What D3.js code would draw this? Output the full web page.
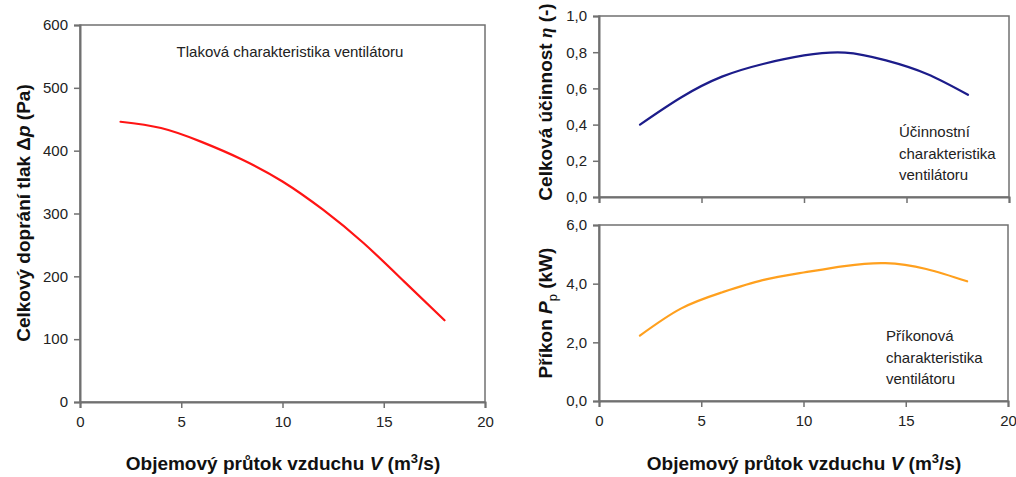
<!DOCTYPE html>
<html>
<head>
<meta charset="utf-8">
<script src="https://cdn.jsdelivr.net/npm/d3@7"></script>
<style>
  html, body { margin: 0; padding: 0; background: #fff; }
  svg { display: block; font-family: "Liberation Sans", Arial, sans-serif; }
</style>
</head>
<body>
<svg id="chart" width="1016" height="477"></svg>
<script>
// ---- data ----
const flow = [2, 4, 6, 8, 10, 12, 14, 16, 18];              // m3/s
const pressure = [446, 436, 414, 386, 351, 306, 253, 192, 130]; // Pa
const efficiency = [0.40, 0.55, 0.665, 0.735, 0.782, 0.798, 0.755, 0.68, 0.565];
const power = [2.23, 3.15, 3.70, 4.12, 4.38, 4.60, 4.70, 4.50, 4.08]; // kW
const xTicks = [0, 5, 10, 15, 20];
const pTicks = [0, 100, 200, 300, 400, 500, 600];
const etaTicks = [0, 0.2, 0.4, 0.6, 0.8, 1.0];
const powTicks = [0, 2, 4, 6];

const svg = d3.select("#chart");
const axisColor = "#707070";
const tickText = "#222";
const comma = v => d3.format(".1f")(v).replace(".", ",");

function panel(cfg) {
  const { x0, x1, yTop, yBot, yDomain, yTicks, yFmt, showXLabels, ys, color } = cfg;
  const x = d3.scaleLinear().domain([0, 20]).range([x0, x1]);
  const y = d3.scaleLinear().domain(yDomain).range([yBot, yTop]);
  const g = svg.append("g");

  g.append("rect").attr("x", x0).attr("y", yTop).attr("width", x1 - x0).attr("height", yBot - yTop)
    .attr("fill", "none").attr("stroke", axisColor).attr("stroke-width", 1.5);

  const xa = g.append("g").attr("transform", `translate(0,${yBot})`)
    .call(d3.axisBottom(x).tickValues(xTicks).tickSize(6).tickPadding(8)
      .tickFormat(showXLabels ? d3.format("d") : () => ""));
  const ya = g.append("g").attr("transform", `translate(${x0},0)`)
    .call(d3.axisLeft(y).tickValues(yTicks).tickSize(6).tickPadding(6).tickFormat(yFmt));
  [xa, ya].forEach(a => {
    a.select(".domain").attr("stroke", axisColor).attr("stroke-width", 2);
    a.selectAll(".tick line").attr("stroke", axisColor).attr("stroke-width", 1.5);
    a.selectAll(".tick text").attr("fill", tickText).style("font-size", "15px");
  });

  const line = d3.line().x((d, i) => x(flow[i])).y(d => y(d)).curve(d3.curveNatural);
  g.append("path").datum(ys).attr("d", line).attr("fill", "none")
    .attr("stroke", color).attr("stroke-width", 2.2).attr("stroke-linecap", "round");
  return { x, y, g };
}

panel({ x0: 80, x1: 485, yTop: 25, yBot: 402, yDomain: [0, 600], yTicks: pTicks,
  yFmt: d3.format("d"), showXLabels: true, ys: pressure, color: "#ff1414" });
panel({ x0: 599, x1: 1009, yTop: 16, yBot: 197, yDomain: [0, 1], yTicks: etaTicks,
  yFmt: comma, showXLabels: false, ys: efficiency, color: "#1c1c8a" });
panel({ x0: 599, x1: 1008, yTop: 225, yBot: 401, yDomain: [0, 6], yTicks: powTicks,
  yFmt: comma, showXLabels: true, ys: power, color: "#ffa01e" });

// Annotations
svg.append("text").attr("x", 290).attr("y", 57).attr("text-anchor", "middle")
  .style("font-size", "15px").attr("fill", "#222").text("Tlaková charakteristika ventilátoru");

function multi(xp, yp, lines) {
  const t = svg.append("text").attr("x", xp).attr("y", yp).style("font-size", "15px").attr("fill", "#222");
  lines.forEach((s, i) => t.append("tspan").attr("x", xp).attr("dy", i ? 21.5 : 0).text(s));
}
multi(899, 137, ["Účinnostní", "charakteristika", "ventilátoru"]);
multi(886, 341, ["Příkonová", "charakteristika", "ventilátoru"]);

// Axis titles
function xTitle(cx) {
  const t = svg.append("text").attr("x", cx).attr("y", 470).attr("text-anchor", "middle")
    .style("font-size", "19px").style("font-weight", "bold").attr("fill", "#111");
  t.append("tspan").text("Objemový průtok vzduchu ");
  t.append("tspan").style("font-style", "italic").text("V");
  t.append("tspan").text("  (m");
  t.append("tspan").attr("dy", -7).style("font-size", "13px").text("3");
  t.append("tspan").attr("dy", 7).text("/s)");
}
xTitle(283);
xTitle(804);

function yTitle(cx, cy, build) {
  const t = svg.append("text").attr("transform", `translate(${cx},${cy}) rotate(-90)`)
    .attr("text-anchor", "middle").style("font-size", "19px").style("font-weight", "bold").attr("fill", "#111");
  build(t);
}
yTitle(30, 213, t => {
  t.append("tspan").text("Celkový doprání tlak  Δ");
  t.append("tspan").style("font-style", "italic").text("p");
  t.append("tspan").text(" (Pa)");
});
yTitle(552, 102, t => {
  t.append("tspan").text("Celková účinnost ");
  t.append("tspan").style("font-style", "italic").style("font-family", "'Liberation Serif', serif").text("η");
  t.append("tspan").text(" (-)");
});
yTitle(552, 313, t => {
  t.append("tspan").text("Příkon ");
  t.append("tspan").style("font-style", "italic").text("P");
  t.append("tspan").attr("dy", 5).style("font-size", "13px").style("font-weight", "normal").text("p");
  t.append("tspan").attr("dy", -5).text(" (kW)");
});
</script>
</body>
</html>
